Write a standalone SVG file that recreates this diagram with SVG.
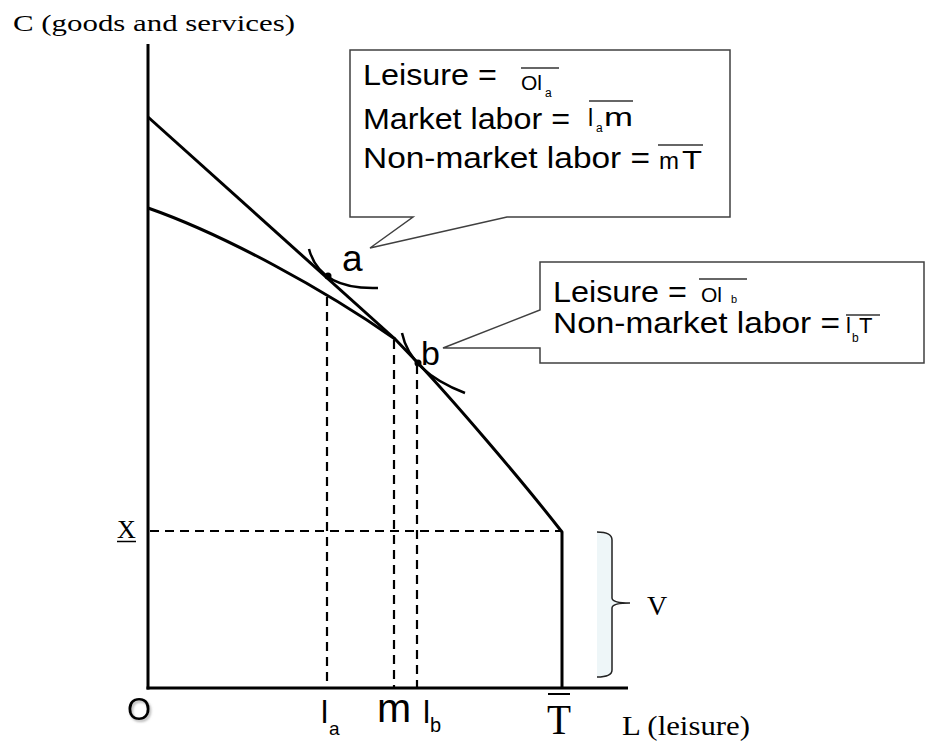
<svg xmlns="http://www.w3.org/2000/svg" width="927" height="744" viewBox="0 0 927 744">
<style>
.ax{stroke:#000;stroke-width:3;fill:none}
.cv{stroke:#000;stroke-width:3;fill:none;stroke-linejoin:round}
.ic{stroke:#000;stroke-width:2.5;fill:none}
.dash{stroke:#000;stroke-width:2.2;fill:none;stroke-dasharray:9 6}
.box{stroke:#404040;stroke-width:1.5;fill:#fff}
.ov{stroke:#333;stroke-width:1.3}
.sans{font-family:"Liberation Sans",Arial,sans-serif;fill:#000}
.serif{font-family:"Liberation Serif","Times New Roman",serif;fill:#000}
</style>
<defs>
<filter id="shadow" x="-20%" y="-20%" width="150%" height="150%">
<feDropShadow dx="1.5" dy="2" stdDeviation="1" flood-color="#888" flood-opacity="0.6"/>
</filter>
</defs>
<rect width="927" height="744" fill="#fff"/>

<g id="guides">
<line class="dash" x1="327" y1="297" x2="327" y2="688"/>
<line class="dash" x1="394" y1="340" x2="394" y2="688"/>
<line class="dash" x1="417" y1="365" x2="417" y2="688"/>
<line class="dash" x1="150" y1="531" x2="562" y2="531"/>
</g>

<g id="axes">
<line class="ax" x1="148" y1="44" x2="148" y2="689.5"/>
<line class="ax" x1="146.5" y1="688" x2="628" y2="688"/>
</g>

<g id="curves">
<path id="budget-line" class="cv" d="M148,117 L395,339"/>
<path id="ppf" class="cv" d="M148,208 C225,235 325,290 395,339 L418,363 C450,397 520,478 562,532 L562,688"/>
<path id="ic-a" class="ic" d="M309,249 Q320,290 378,288"/>
<path id="ic-b" class="ic" d="M402,333 Q410,372 465,393"/>
<circle cx="328" cy="276" r="3.5" fill="#000"/>
<circle cx="418" cy="363" r="3.5" fill="#000"/>
</g>

<g id="brace">
<path d="M597,532 Q612,532 612,540 V598 Q612,603 630,603 Q612,603 612,608 V670 Q612,677 597,677 Z" fill="#eef6f8" stroke="none"/>
<path d="M597,532 Q612,532 612,540 V598 Q612,603 630,603 Q612,603 612,608 V670 Q612,677 597,677" fill="none" stroke="#222" stroke-width="1.5"/>
</g>

<g id="callout-a">
<path class="box" d="M350,50 H730 V217 H507 L370,248 L413,217 H350 Z"/>
<text class="sans" x="363" y="85" font-size="30" textLength="134" lengthAdjust="spacingAndGlyphs">Leisure =</text>
<text class="sans" x="521" y="90" font-size="21">Ol</text>
<text class="sans" x="545" y="97" font-size="12">a</text>
<line class="ov" x1="521" y1="68" x2="559" y2="68"/>
<text class="sans" x="363" y="129" font-size="30" textLength="207" lengthAdjust="spacingAndGlyphs">Market labor =</text>
<text class="sans" x="588" y="126" font-size="23">l</text>
<text class="sans" x="596" y="132" font-size="12">a</text>
<text class="sans" x="604" y="126" font-size="26" textLength="29" lengthAdjust="spacingAndGlyphs">m</text>
<line class="ov" x1="589" y1="101" x2="633" y2="101"/>
<text class="sans" x="363" y="168" font-size="30" textLength="287" lengthAdjust="spacingAndGlyphs">Non-market labor =</text>
<text class="sans" x="659" y="169" font-size="24">m</text>
<text class="sans" x="682" y="169" font-size="25" textLength="20" lengthAdjust="spacingAndGlyphs">T</text>
<line class="ov" x1="658" y1="145" x2="703" y2="145"/>
</g>

<g id="callout-b">
<path class="box" d="M540,262 H924 V363 H540 V348 H443 L540,310 Z"/>
<text class="sans" x="553" y="302" font-size="30" textLength="134" lengthAdjust="spacingAndGlyphs">Leisure =</text>
<text class="sans" x="701" y="302" font-size="21">Ol</text>
<text class="sans" x="731" y="303.3" font-size="11">b</text>
<line class="ov" x1="699" y1="279" x2="747" y2="279"/>
<text class="sans" x="553" y="333" font-size="30" textLength="287" lengthAdjust="spacingAndGlyphs">Non-market labor =</text>
<text class="sans" x="846" y="333" font-size="22">l</text>
<text class="sans" x="852" y="342" font-size="12">b</text>
<text class="sans" x="859" y="333" font-size="22">T</text>
<line class="ov" x1="846" y1="315" x2="880" y2="315"/>
</g>

<g id="labels">
<text class="serif" x="13" y="31" font-size="24" textLength="282" lengthAdjust="spacingAndGlyphs">C (goods and services)</text>
<text class="sans" x="342" y="271" font-size="37">a</text>
<text class="sans" x="421" y="365" font-size="34">b</text>
<text class="serif" x="117" y="538" font-size="26">X</text>
<line x1="117" y1="541.5" x2="136" y2="541.5" stroke="#000" stroke-width="1.5"/>
<text class="serif" x="647" y="615" font-size="28">V</text>
<text class="sans" x="127" y="720" font-size="31" filter="url(#shadow)">O</text>
<text class="sans" x="321" y="723" font-size="32">l</text>
<text class="sans" x="329" y="735" font-size="19">a</text>
<text class="sans" x="377" y="722" font-size="41">m</text>
<text class="sans" x="423" y="723" font-size="32">l</text>
<text class="sans" x="430" y="732" font-size="20">b</text>
<text class="serif" x="547" y="734" font-size="42" textLength="24" lengthAdjust="spacingAndGlyphs">T</text>
<line x1="548" y1="694" x2="570" y2="694" stroke="#000" stroke-width="2"/>
<text class="serif" x="622" y="735" font-size="27" textLength="128" lengthAdjust="spacingAndGlyphs">L (leisure)</text>
</g>
</svg>
